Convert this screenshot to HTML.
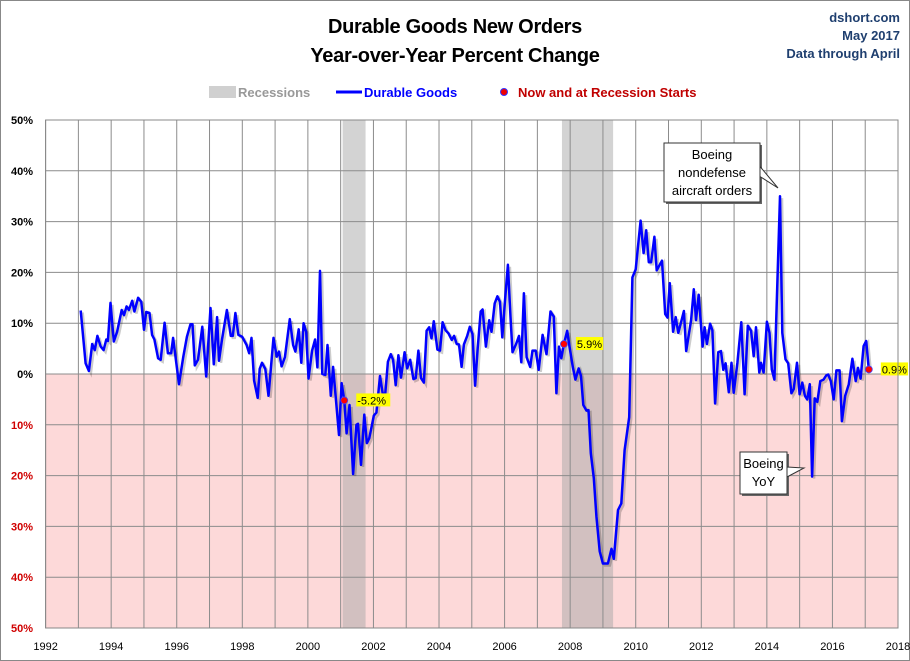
<!DOCTYPE html>
<html><head><meta charset="utf-8"><style>
html,body{margin:0;padding:0;background:#fff;}
svg{display:block;font-family:"Liberation Sans",sans-serif;}
</style></head><body>
<svg id="c" width="910" height="661" viewBox="0 0 910 661">
<rect x="0.5" y="0.5" width="909" height="660" fill="#fff" stroke="#888"/>
<text x="455" y="33" text-anchor="middle" font-size="20" font-weight="bold" style="letter-spacing:-0.3px">Durable Goods New Orders</text>
<text x="455" y="62" text-anchor="middle" font-size="20" font-weight="bold" style="letter-spacing:-0.3px">Year-over-Year Percent Change</text>
<text x="900" y="22" text-anchor="end" font-size="13" font-weight="bold" fill="#1f3f6f">dshort.com</text>
<text x="900" y="40" text-anchor="end" font-size="13" font-weight="bold" fill="#1f3f6f">May 2017</text>
<text x="900" y="58" text-anchor="end" font-size="13" font-weight="bold" fill="#1f3f6f">Data through April</text>
<g>
<rect x="209" y="86" width="27" height="12" fill="#d0d0d0"/>
<text x="238" y="97" font-size="13" font-weight="bold" fill="#999">Recessions</text>
<line x1="336" y1="92" x2="362" y2="92" stroke="#0000ff" stroke-width="3"/>
<text x="364" y="97" font-size="13" font-weight="bold" fill="#0000ff">Durable Goods</text>
<circle cx="504" cy="92" r="3.5" fill="#e00" stroke="#33f" stroke-width="1"/>
<text x="518" y="97" font-size="13" font-weight="bold" fill="#c00000">Now and at Recession Starts</text>
</g>
<g id="plot"></g>
</svg>
<script>
const yearsX=[1993.07,1993.22,1993.32,1993.42,1993.5,1993.58,1993.68,1993.77,1993.85,1993.9,1993.98,1994.08,1994.18,1994.32,1994.39,1994.47,1994.54,1994.64,1994.71,1994.82,1994.92,1995.0,1995.07,1995.17,1995.25,1995.32,1995.43,1995.51,1995.63,1995.73,1995.83,1995.89,1996.07,1996.2,1996.31,1996.42,1996.48,1996.55,1996.65,1996.78,1996.9,1997.03,1997.13,1997.23,1997.29,1997.38,1997.53,1997.65,1997.71,1997.79,1997.88,1998.0,1998.13,1998.21,1998.28,1998.36,1998.47,1998.53,1998.6,1998.7,1998.8,1998.95,1999.05,1999.12,1999.2,1999.3,1999.45,1999.55,1999.62,1999.72,1999.8,1999.87,1999.95,2000.02,2000.13,2000.22,2000.29,2000.37,2000.44,2000.53,2000.6,2000.7,2000.77,2000.85,2000.95,2001.03,2001.11,2001.18,2001.27,2001.38,2001.48,2001.53,2001.62,2001.72,2001.8,2001.87,2001.94,2002.01,2002.09,2002.2,2002.28,2002.36,2002.44,2002.53,2002.6,2002.68,2002.76,2002.84,2002.95,2003.03,2003.12,2003.22,2003.29,2003.37,2003.45,2003.54,2003.62,2003.7,2003.77,2003.84,2003.95,2004.03,2004.11,2004.2,2004.29,2004.39,2004.46,2004.54,2004.61,2004.69,2004.76,2004.86,2004.94,2005.02,2005.1,2005.18,2005.27,2005.33,2005.43,2005.53,2005.6,2005.7,2005.78,2005.86,2005.93,2006.01,2006.1,2006.18,2006.24,2006.35,2006.44,2006.51,2006.59,2006.67,2006.78,2006.85,2006.95,2007.04,2007.16,2007.28,2007.4,2007.5,2007.58,2007.66,2007.73,2007.81,2007.91,2007.98,2008.08,2008.16,2008.26,2008.33,2008.4,2008.5,2008.56,2008.63,2008.72,2008.8,2008.9,2009.0,2009.15,2009.26,2009.33,2009.46,2009.56,2009.66,2009.8,2009.9,2010.0,2010.15,2010.24,2010.32,2010.4,2010.47,2010.57,2010.64,2010.8,2010.9,2010.97,2011.04,2011.14,2011.22,2011.3,2011.4,2011.47,2011.54,2011.69,2011.77,2011.84,2011.92,2012.04,2012.1,2012.17,2012.27,2012.34,2012.42,2012.52,2012.6,2012.67,2012.74,2012.84,2012.92,2012.99,2013.1,2013.22,2013.32,2013.42,2013.52,2013.6,2013.67,2013.77,2013.82,2013.9,2014.0,2014.08,2014.15,2014.23,2014.4,2014.47,2014.57,2014.65,2014.75,2014.82,2014.92,2015.0,2015.08,2015.16,2015.23,2015.31,2015.38,2015.46,2015.54,2015.63,2015.73,2015.81,2015.87,2015.95,2016.04,2016.12,2016.22,2016.29,2016.39,2016.5,2016.61,2016.71,2016.78,2016.86,2016.95,2017.03,2017.11];
const durableGoods=[12.5,2.1,0.6,5.9,4.7,7.5,5.4,4.7,6.8,6.5,14,6.4,8.3,12.6,11.6,13.3,12.6,14.4,12.3,15,14.2,8.7,12.2,12,7.7,6.8,3.1,2.8,10.1,4.1,4.1,7.1,-2,3.4,7.3,9.8,9.8,1.7,2.8,9.3,-0.5,13,1.9,11.2,2.6,6.8,12.6,7.5,7.5,12,7.7,7.3,5.7,4.1,7.1,-1.3,-4.7,1,2.2,1,-4.3,7.1,3.4,4.4,1.5,3.3,10.8,5.7,4.4,8.8,2.2,10,8.3,-0.9,4.6,6.8,1.3,20.3,0,-0.2,5.7,-4.3,1.4,-4.5,-12,-1.8,-5.2,-11.7,-6.1,-19.7,-10,-9.8,-17.9,-8,-13.6,-12.7,-10.5,-8.2,-7.6,-0.4,-3.7,-4,2.4,3.9,2.8,-2.2,3.7,-0.7,4.3,1.1,2.8,-1,-0.8,4.6,-0.8,-1.7,8.5,9.2,7,10.4,4.8,4.6,10.2,8.6,8,6.7,7.5,5.9,5.8,1.4,5.8,7.5,9.3,7.9,-2.3,5.1,12.3,12.7,5.4,10.6,8.3,13.9,15.3,14.2,7.2,14.2,21.5,11.2,4.3,5.9,7.5,2.3,15.9,3.3,1.4,4.6,4.6,0.8,7.7,3.9,12.3,11.3,-3.8,5.4,3.1,5.9,8.5,5.4,1.4,-1.1,1.1,-0.4,-6.1,-7.2,-7.1,-15.6,-20.5,-28,-34.9,-37.3,-37.3,-34.4,-36.4,-26.8,-25.5,-15,-8.5,19,20.6,30.2,23.8,28.3,22,22,27,20.4,22.3,11.8,11.1,17.9,8.3,11.2,8.1,10.6,12.4,4.5,10.6,16.7,10.6,15.6,5.4,9.2,5.9,9.9,8.6,-5.8,4.3,4.5,0.8,2.1,-3.6,2.2,-3.7,2.2,10.2,-4,9.5,8.5,3.5,9.2,0.3,2.2,0.3,10.3,8.1,0.9,-1.1,35,8.1,2.9,2.1,-3.8,-3,2.2,-4,-1.7,-4.3,-5,-2,-20.2,-4.8,-5.5,-1.4,-1.1,-0.3,-0.1,-1.4,-5,0.7,0.7,-9.3,-4.3,-2,3,-1.4,1.2,-0.9,5.5,6.5,0.9];
const recessionStarts=[2001.06,2007.75];
const recessionEnds=[2001.76,2009.31];
const markerYears=[2001.11,2007.81,2017.11];
const markerValues=[-5.2,5.9,0.9];
const markerLabels=["-5.2%","5.9%","0.9%"];
const yTicks=[50,40,30,20,10,0,-10,-20,-30,-40,-50];
const xTickYears=[1992,1994,1996,1998,2000,2002,2004,2006,2008,2010,2012,2014,2016,2018];

const L=45.6,R=898,T=120,B=628;
const x=y=>L+(y-1992)*(R-L)/26;
const yS=v=>T+(50-v)*(B-T)/100;
const NS="http://www.w3.org/2000/svg";
const g=document.getElementById('plot');
function mk(t,a,p){const e=document.createElementNS(NS,t);for(const k in a)e.setAttribute(k,a[k]);(p||g).appendChild(e);return e;}

let e=mk('rect',{x:L,y:yS(0),width:R-L,height:B-yS(0),fill:'#fdd9d9'});


recessionStarts.forEach((s,i)=>{
 const r=mk('rect',{x:x(s),y:T,width:x(recessionEnds[i])-x(s),height:B-T,fill:'#a8a8a8','fill-opacity':0.5});
 
 
});
for(let yr=1992;yr<=2018;yr++){
 const l=mk('line',{x1:x(yr),x2:x(yr),y1:T,y2:B,stroke:'#8c8c8c','stroke-width':1});
 
 
}
yTicks.forEach(v=>{
 const l=mk('line',{x1:L,x2:R,y1:yS(v),y2:yS(v),stroke:'#8c8c8c','stroke-width':1});
 
 
 const t=mk('text',{x:33,y:yS(v)+4,'text-anchor':'end','font-size':11,'font-weight':'bold',fill:v<0?'#d00000':'#000'});
 t.textContent=Math.abs(v)+'%';
 
 
});
xTickYears.forEach(yr=>{
 const t=mk('text',{x:x(yr),y:650,'text-anchor':'middle','font-size':11,fill:'#000'});
 t.textContent=yr;
 
 
});
const pts=yearsX.map((yr,i)=>x(yr).toFixed(1)+','+yS(durableGoods[i]).toFixed(1)).join(' ');
const sh=mk('polyline',{points:pts,fill:'none',stroke:'#000','stroke-opacity':0.2,'stroke-width':2.5,transform:'translate(2,2)'});


const pl=mk('polyline',{points:pts,fill:'none',stroke:'#0000ff','stroke-width':2.5,'stroke-linejoin':'round'});


markerYears.forEach((yr,i)=>{
 const cx=x(yr),cy=yS(markerValues[i]);
 const c=mk('circle',{cx:cx,cy:cy,r:3.5,fill:'#ff0000',stroke:'#44f','stroke-width':0.8});
 
 
 const w=markerLabels[i].length*6.8;
 const bg=mk('rect',{x:cx+12,y:cy-7,width:w,height:13,fill:'#ffff00'});
 
 
 const t=mk('text',{x:cx+13,y:cy+4,'font-size':11,fill:'#000'});
 t.textContent=markerLabels[i];
 
 
});
const frame=mk('rect',{x:L,y:T,width:R-L,height:B-T,fill:'none',stroke:'#888'});



function callout(name,bx,by,bw,bh,lines,tip){
 const grp=mk('g',{});
 
 
 mk('rect',{x:bx+2,y:by+2,width:bw,height:bh,fill:'#666'},grp);
 mk('polygon',{points:`${bx+bw},${by+bh/2-6} ${tip[0]},${tip[1]} ${bx+bw},${by+bh/2+4}`,fill:'#fff',stroke:'#333'},grp);
 mk('rect',{x:bx,y:by,width:bw,height:bh,fill:'#fff',stroke:'#333'},grp);
 lines.forEach((s,i)=>{const t=mk('text',{x:bx+bw/2,y:by+16+i*18,'text-anchor':'middle','font-size':13},grp);t.textContent=s;});
}
callout('boeing-aircraft-callout',664,143,96,59,['Boeing','nondefense','aircraft orders'],[778,188]);
callout('boeing-yoy-callout',740,452,47,42,['Boeing','YoY'],[804,468]);
</script>
</body></html>
